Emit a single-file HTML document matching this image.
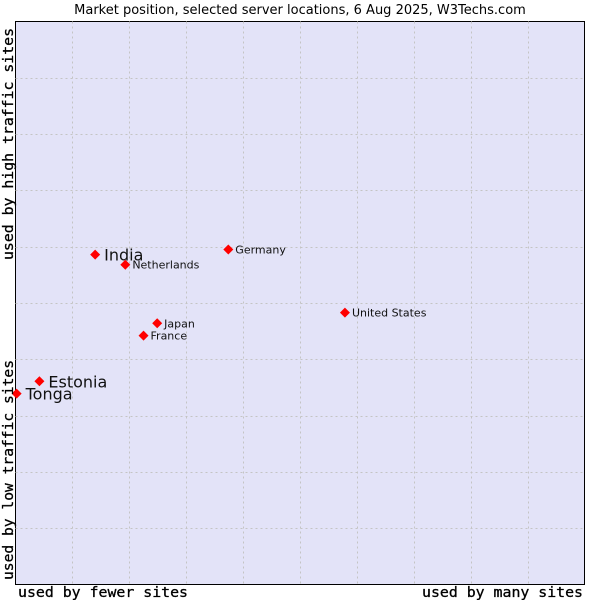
<!DOCTYPE html>
<html><head><meta charset="utf-8"><style>
body{margin:0;background:#fff;}
svg{display:block;font-family:"DejaVu Sans","Liberation Sans",sans-serif;}
.ax{font-family:"DejaVu Sans Mono","Liberation Mono",monospace;font-size:14.5px;stroke:#000;stroke-width:0.3;}
</style></head><body>
<svg id="chart" width="600" height="600">
<text x="300" y="14" text-anchor="middle" font-size="13" fill="#000">Market position, selected server locations, 6 Aug 2025, W3Techs.com</text>
<rect x="15.5" y="21.5" width="569" height="563" fill="#e3e3f8" stroke="#000"/>
<g id="grid"></g>
<g id="points"></g>
<text class="ax" x="18" y="597" textLength="170" lengthAdjust="spacingAndGlyphs">used by fewer sites</text>
<text class="ax" x="422" y="597" textLength="161" lengthAdjust="spacingAndGlyphs">used by many sites</text>
<text class="ax" transform="translate(13,580) rotate(-90)" textLength="220" lengthAdjust="spacingAndGlyphs">used by low traffic sites</text>
<text class="ax" transform="translate(13,260) rotate(-90)" textLength="232" lengthAdjust="spacingAndGlyphs">used by high traffic sites</text>
</svg>
<script>
const names=["India","Netherlands","Germany","United States","Japan","France","Estonia","Tonga"];
const xValues=[14.0,19.3,37.4,57.9,24.9,22.5,4.2,0.2];
const yValues=[58.6,56.8,59.5,48.3,46.4,44.2,36.1,33.9];
const bigLabel=[true,false,false,false,false,false,true,true];
const gridTicks=[10,20,30,40,50,60,70,80,90];
const L=15.5,R=584.5,T=21.5,B=584.5;
const sx=v=>L+v/100*(R-L), sy=v=>B-v/100*(B-T);
const NS="http://www.w3.org/2000/svg";
const grid=document.getElementById('grid'), pts=document.getElementById('points');
gridTicks.forEach(t=>{
  const vx=document.createElementNS(NS,'line');
  vx.setAttribute('x1',Math.round(sx(t))+0.5);vx.setAttribute('x2',Math.round(sx(t))+0.5);
  vx.setAttribute('y1',T);vx.setAttribute('y2',B);
  vx.setAttribute('stroke','#c4c4c4');vx.setAttribute('stroke-dasharray','2,3');
  
  
  grid.appendChild(vx);
  const hy=document.createElementNS(NS,'line');
  hy.setAttribute('y1',Math.round(sy(t))+0.5);hy.setAttribute('y2',Math.round(sy(t))+0.5);
  hy.setAttribute('x1',L);hy.setAttribute('x2',R);
  hy.setAttribute('stroke','#c4c4c4');hy.setAttribute('stroke-dasharray','2,3');
  
  
  grid.appendChild(hy);
});
names.forEach((n,i)=>{
  const x=sx(xValues[i]), y=sy(yValues[i]);
  const d=document.createElementNS(NS,'polygon');
  d.setAttribute('points',`${x},${y-5} ${x+5},${y} ${x},${y+5} ${x-5},${y}`);
  d.setAttribute('fill','#ff0000');
  
  
  pts.appendChild(d);
  const t=document.createElementNS(NS,'text');
  t.setAttribute('x',x+(bigLabel[i]?9:7));
  t.setAttribute('y',y+(bigLabel[i]?6:4));
  t.setAttribute('font-size',bigLabel[i]?16:11);
  t.setAttribute('fill','#111');
  t.textContent=n;
  
  
  pts.appendChild(t);
});
</script>
</body></html>
